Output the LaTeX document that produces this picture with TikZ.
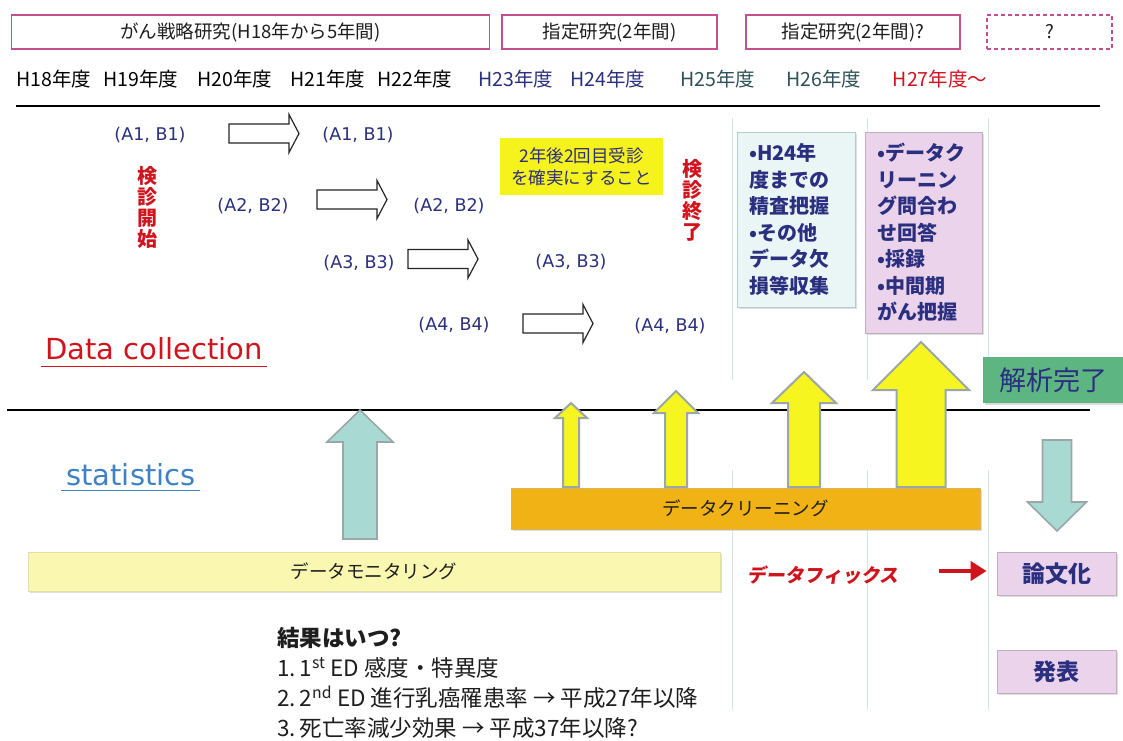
\documentclass[tikz,border=0pt]{standalone}
\usepackage{fontspec}
\setmainfont{Noto Sans CJK JP}
\newfontfamily\dv{DejaVu Sans}
\usetikzlibrary{shadows,arrows.meta}
\definecolor{navy}{HTML}{2B2F7F}
\definecolor{pinkb}{HTML}{C4508E}
\definecolor{redA}{HTML}{D0141E}
\definecolor{tealtxt}{HTML}{2E5058}
\definecolor{lbfill}{HTML}{EAF5F5}
\definecolor{lbdraw}{HTML}{B4CCCC}
\definecolor{pkfill}{HTML}{EBD3EB}
\definecolor{pkdraw}{HTML}{BFAFBF}
\definecolor{greenA}{HTML}{5DB581}
\definecolor{yelA}{HTML}{F7F520}
\definecolor{arrgray}{HTML}{9AA6A8}
\definecolor{orangeA}{HTML}{F0B214}
\definecolor{monfill}{HTML}{FAF8B0}
\definecolor{tealfill}{HTML}{A9D9D3}
\definecolor{vlinec}{HTML}{D3E5E5}
\definecolor{stblue}{HTML}{3C82C4}
\definecolor{ybox}{HTML}{F6F21C}
\definecolor{txtdark}{HTML}{1E1E1E}
\newcommand{\hollowarr}[3]{%
  \draw[hollow] (#1,#3-9.5) -- (#2-10,#3-9.5) -- (#2-10,#3-19) -- (#2,#3) -- (#2-10,#3+19) -- (#2-10,#3+9.5) -- (#1,#3+9.5) -- cycle;}
\newcommand{\blockarr}[7]{%
  \draw[#1] (#2,#3) -- (#2+#7,#4) -- (#2+#6,#4) -- (#2+#6,#5) -- (#2-#6,#5) -- (#2-#6,#4) -- (#2-#7,#4) -- cycle;}
\begin{document}
\begin{tikzpicture}[x=1pt,y=-1pt,
  topbox/.style={draw=pinkb, line width=1.4pt, minimum height=34pt, inner sep=0pt, font=\fontsize{18.5}{21}\selectfont, text=txtdark},
  year/.style={font=\fontsize{19.5}{22}\selectfont, inner sep=0pt},
  pair/.style={font=\dv\fontsize{17.5}{20}\selectfont, text=navy, inner sep=0pt},
  hollow/.style={draw=black!85, line width=1.2pt, fill=white},
  vlab/.style={font=\bfseries\fontsize{20}{22}\selectfont, text=redA, align=center, inner sep=0pt},
  infobox/.style={align=left, inner xsep=12pt, inner ysep=0pt, font=\bfseries\fontsize{20}{26.5}\selectfont, text=navy, line width=1pt, drop shadow={shadow xshift=2pt, shadow yshift=-2pt, opacity=0.25}},
  bar/.style={inner sep=0pt, font=\fontsize{18.5}{22}\selectfont, text=txtdark, line width=0.8pt, drop shadow={shadow xshift=1.5pt, shadow yshift=-1.5pt, opacity=0.25}},
  sidebox/.style={fill=pkfill, draw=pkdraw, line width=0.8pt, minimum width=119pt, minimum height=43pt, inner sep=0pt, font=\bfseries\fontsize{23}{26}\selectfont, text=navy, drop shadow={shadow xshift=1.5pt, shadow yshift=-1.5pt, opacity=0.25}},
  yarrow/.style={fill=yelA, draw=arrgray, line width=2pt, line join=miter},
  tarrow/.style={fill=tealfill, draw=arrgray, line width=1.6pt, line join=miter},
  rule/.style={draw=black, line width=1.4pt},
  vsep/.style={draw=vlinec, line width=1pt},
  result/.style={anchor=base west, inner sep=0pt, font=\fontsize{22.5}{26}\selectfont, text=txtdark}
]
\useasboundingbox (0,0) rectangle (1123,740);
\fill[white] (0,0) rectangle (1123,740);

% vertical separators
\foreach \xx in {732,867,988} {
  \draw[vsep] (\xx,118) -- (\xx,380);
  \draw[vsep] (\xx,470) -- (\xx,710);
}

% top boxes
\node[topbox, minimum width=478pt] (p1) at (250.5,32) {がん戦略研究(H18年から5年間)};
\node[topbox, minimum width=215pt] (p2) at (609.5,32) {指定研究(2年間)};
\node[topbox, minimum width=214pt] (p3) at (853,32) {指定研究(2年間)?};
\node[topbox, minimum width=125pt, dash pattern=on 4pt off 3pt] (p4) at (1049.5,32) {?};

% years
\node[year] (y18) at (54,79) {H18年度};
\node[year] (y19) at (141,79) {H19年度};
\node[year] (y20) at (235,79) {H20年度};
\node[year] (y21) at (328,79) {H21年度};
\node[year] (y22) at (415,79) {H22年度};
\node[year, text=navy] (y23) at (516,79) {H23年度};
\node[year, text=navy] (y24) at (608,79) {H24年度};
\node[year, text=tealtxt] (y25) at (718,79) {H25年度};
\node[year, text=tealtxt] (y26) at (824,79) {H26年度};
\node[year, text=redA] (y27) at (940,79) {H27年度～};

% rules
\coordinate (r1a) at (16,106); \coordinate (r1b) at (1100,106);
\draw[rule] (r1a) -- (r1b);
\coordinate (r2a) at (7,410); \coordinate (r2b) at (1090,410);
\draw[rule] (r2a) -- (r2b);

% pairs
\node[pair] (a1l) at (150,135) {(A1, B1)};
\node[pair] (a1r) at (358,135) {(A1, B1)};
\node[pair] (a2l) at (253,206) {(A2, B2)};
\node[pair] (a2r) at (449,206) {(A2, B2)};
\node[pair] (a3l) at (359,263) {(A3, B3)};
\node[pair] (a3r) at (571,262) {(A3, B3)};
\node[pair] (a4l) at (454,325) {(A4, B4)};
\node[pair] (a4r) at (670,326) {(A4, B4)};
\hollowarr{229}{299}{133.5}
\hollowarr{317}{387}{199.5}
\hollowarr{408}{478}{259}
\hollowarr{523}{593}{323.5}

% vertical labels
\node[vlab] (kstart) at (147,207) {検\\[-1pt]診\\[-1pt]開\\[-1pt]始};
\node[vlab] (kend) at (692,200) {検\\[-1pt]診\\[-1pt]終\\[-1pt]了};

% yellow note
\node[fill=ybox, minimum width=163pt, minimum height=57pt, inner sep=0pt, align=center, text=navy, font=\fontsize{17.5}{22}\selectfont] (note) at (581.5,166.5) {2年後2回目受診\\を確実にすること};

% info boxes
\node[infobox, fill=lbfill, draw=lbdraw, minimum width=118pt, minimum height=175pt, text width=94pt] (info1) at (796,219.5) {•H24年\\度までの\\精査把握\\•その他\\データ欠\\損等収集};
\node[infobox, fill=pkfill, draw=pkdraw, minimum width=117pt, minimum height=201pt, text width=93pt] (info2) at (923.5,232.5) {•データク\\リーニン\\グ問合わ\\せ回答\\•採録\\•中間期\\がん把握};

% analysis complete
\node[fill=greenA, minimum width=140pt, minimum height=46pt, inner sep=0pt, text=navy, font=\fontsize{27}{30}\selectfont, drop shadow={shadow xshift=2pt, shadow yshift=-2pt, opacity=0.3}] (done) at (1053,380) {解析完了};

% section titles
\node[inner sep=0pt, text=redA, font=\dv\fontsize{29}{32}\selectfont] (dc) at (154,349) {Data collection};
\draw[redA, line width=1pt] (41,366) -- (267,366);
\node[inner sep=0pt, text=stblue, font=\dv\fontsize{29}{32}\selectfont] (st) at (131,475) {statistics};
\draw[stblue, line width=1pt] (61,490) -- (200,490);

% bars
\node[bar, fill=orangeA, draw=orangeA!85!black!70, minimum width=469pt, minimum height=41pt] (clean) at (745.5,508.5) {データクリーニング};
\node[bar, fill=monfill, draw=monfill!80!gray, minimum width=692pt, minimum height=39pt] (monitor) at (374,571.5) {データモニタリング};

% block arrows
\blockarr{tarrow}{360}{410}{442}{539}{17}{33}
\blockarr{yarrow}{571}{403}{418}{487}{8}{16}
\blockarr{yarrow}{676}{391}{413}{487}{11}{22}
\blockarr{yarrow}{804}{372}{403}{487}{16}{32}
\blockarr{yarrow}{921}{342}{390}{487}{24.5}{48}
\blockarr{tarrow}{1057}{531}{502}{440}{14.5}{29.5}

% data fix
\node[inner sep=0pt, text=redA, font=\bfseries\fontsize{19}{22}\selectfont\addfontfeature{FakeSlant=0.15}] (fix) at (823,575) {データフィックス};
\node[sidebox] (ronbun) at (1056.5,573.5) {論文化};
\node[sidebox] (happyo) at (1056.5,671.5) {発表};
\coordinate (fixarr) at (939,571);
\draw[redA, line width=4pt, -{Triangle[length=16pt,width=19pt]}, shorten >=10pt] (fixarr) -- (fixarr -| ronbun.west);

% results
\node[result, font=\bfseries\fontsize{22.5}{26}\selectfont] (res0) at (277,646) {結果はいつ?};
\node[result] (res1) at (277,676) {1.\,1\textsuperscript{st} ED 感度・特異度};
\node[result] (res2) at (277,706) {2.\,2\textsuperscript{nd} ED 進行乳癌罹患率 → 平成27年以降};
\node[result] (res3) at (277,736) {3.\,死亡率減少効果 → 平成37年以降?};
\end{tikzpicture}
\end{document}
